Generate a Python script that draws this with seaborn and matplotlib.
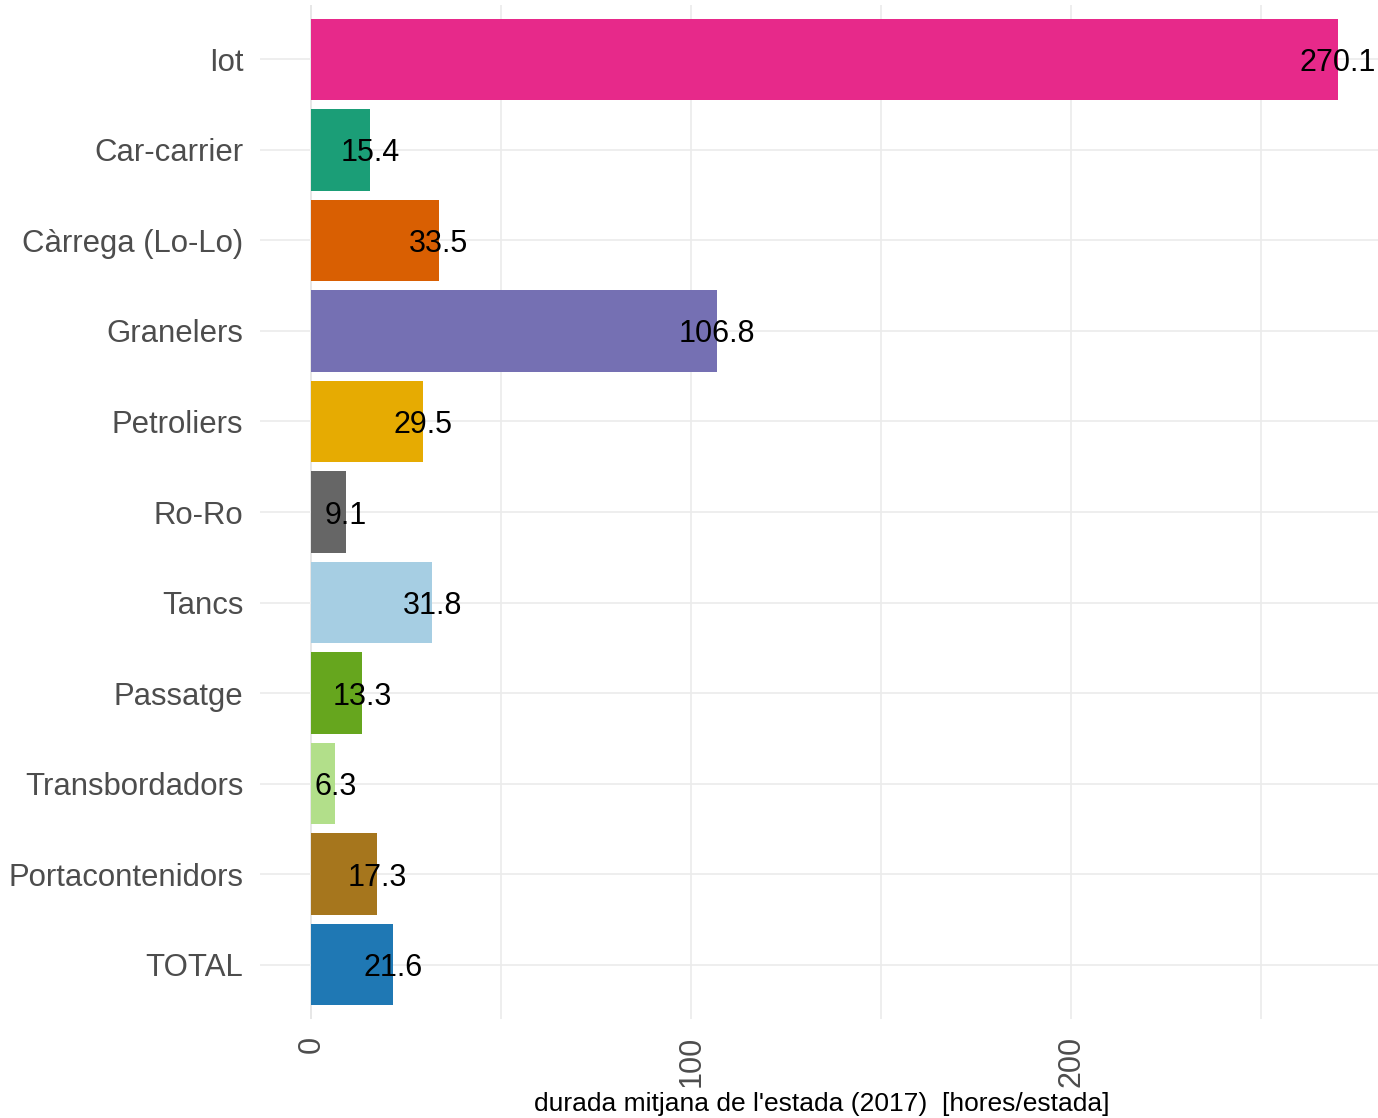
import numpy as np
import pandas as pd
import seaborn as sns
import matplotlib.pyplot as plt

categories = ["Iot", "Car-carrier", "Càrrega (Lo-Lo)", "Granelers", "Petroliers",
              "Ro-Ro", "Tancs", "Passatge", "Transbordadors", "Portacontenidors", "TOTAL"]
values = [270.1, 15.4, 33.5, 106.8, 29.5, 9.1, 31.8, 13.3, 6.3, 17.3, 21.6]
colors = ["#E7298A", "#1B9E77", "#D95F02", "#7570B3", "#E6AB02", "#666666",
          "#A6CEE3", "#66A61E", "#B2DF8A", "#A6761D", "#1F78B4"]
xticks = [0, 100, 200]
xlabel = "durada mitjana de l'estada (2017)  [hores/estada]"

df = pd.DataFrame({"cat": categories, "val": values})

sns.set_theme(style="whitegrid")
plt.rcParams['font.family'] = ['Liberation Sans', 'DejaVu Sans']

fig = plt.figure(figsize=(13.78, 11.18), dpi=100)
# panel runs slightly past the right edge, as in the reference
ax = fig.add_axes([260 / 1378, 1 - 1019 / 1118, 1129 / 1378, (1019 - 5) / 1118])

sns.barplot(data=df, y="cat", x="val", hue="cat", palette=colors, order=categories,
            hue_order=categories, legend=False, width=0.9, saturation=1, ax=ax,
            edgecolor="none")

for i, v in enumerate(values):
    ax.text(v, i, f"{v:.1f}", ha="center", va="center_baseline", fontsize=22, color="black")

xmax = max(values)
pad = xmax * 0.05
ax.set_xlim(-pad, xmax + pad)
ax.set_ylim(len(categories) - 0.4, -0.6)
ax.set_xticks(xticks)
ax.set_xticks([50, 150, 250], minor=True)
ax.set_xticklabels([str(t) for t in xticks], rotation=90, fontsize=22, color="#4D4D4D")
ax.tick_params(axis="y", labelsize=22.4, labelcolor="#4D4D4D", length=0, pad=12)
ax.tick_params(axis="x", which="both", length=0, pad=12)
ax.grid(True, which="major", color="#EBEBEB", linewidth=1.2)
ax.grid(True, which="minor", axis="x", color="#EBEBEB", linewidth=1.2)
ax.axvline(0, color="#D0D0D0", linewidth=1.2, zorder=0.5)
for s in ax.spines.values():
    s.set_visible(False)
ax.set_axisbelow(True)
ax.set_ylabel("")
ax.set_xlabel(xlabel, fontsize=19, color="black")
ax.xaxis.label.set_va("center")
ax.xaxis.set_label_coords((822 - 260) / 1129, -(1104 - 1019) / 1014)

fig.savefig("out.png", dpi=100)
